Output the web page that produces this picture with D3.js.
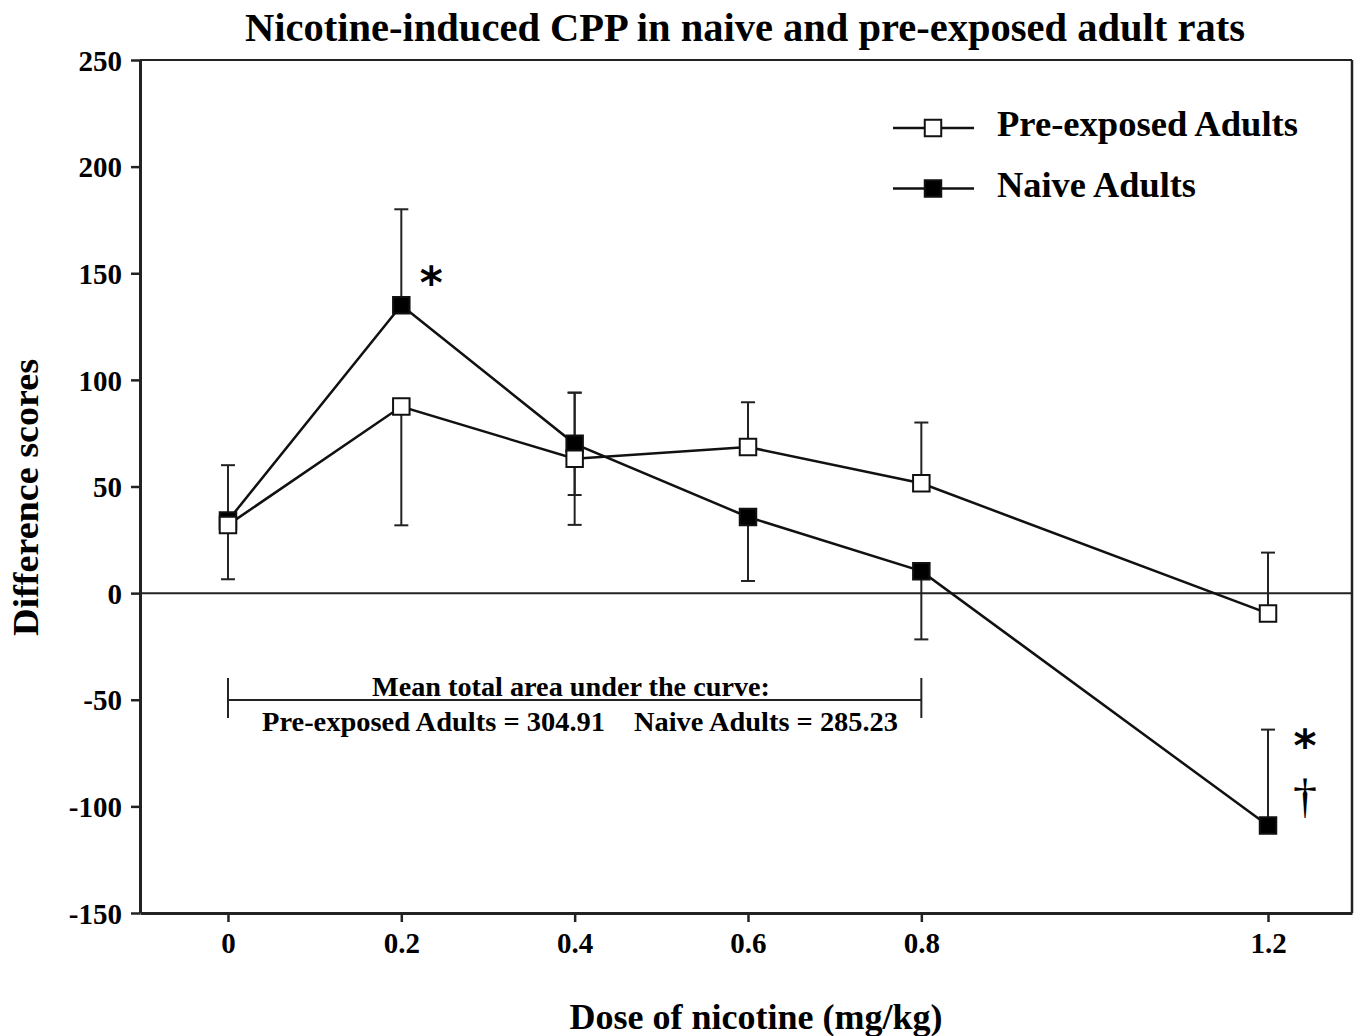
<html>
<head>
    <script src="https://d3js.org/d3.v7.min.js"></script>
    <style>
        body { margin: 0; background: #fff; }
        svg text { font-family: "Liberation Serif", "Times New Roman", serif; font-weight: bold; fill: #000; }
    </style>
</head>
<body>
    <svg id="chartArea" width="1360" height="1036"></svg>
    <script>
        // values
        const doses = [0, 0.2, 0.4, 0.6, 0.8, 1.2];
        const preMean = [32, 87.5, 63, 68.5, 51.5, -9.5];
        const preUp = [0, 0, 31, 21, 28.5, 28.5];
        const preDown = [25.5, 55.7, 31, 0, 0, 0];
        const naiveMean = [34, 135, 70, 35.7, 10.3, -109];
        const naiveUp = [26, 45, 24, 0, 0, 45];
        const naiveDown = [0, 0, 24, 30, 32, 0];

        const xTicks = [0, 0.2, 0.4, 0.6, 0.8, 1.2];
        const yTicks = [-150, -100, -50, 0, 50, 100, 150, 200, 250];
        const seriesNames = ["Pre-exposed Adults", "Naive Adults"];
        const aucValues = [304.91, 285.23];

        const svg = d3.select("#chartArea");
        const margins = { top: 60, right: 8, bottom: 123, left: 140 };
        const width = +svg.attr("width");
        const height = +svg.attr("height");

        const x = d3.scaleLinear()
            .domain([-0.1015, 1.2969])
            .range([margins.left, width - margins.right]);
        const y = d3.scaleLinear()
            .domain([-150, 250])
            .range([height - margins.bottom, margins.top]);

        const x0 = x.range()[0], x1 = x.range()[1];
        const yb = y.range()[0], yt = y.range()[1];

        // title
        svg.append("text")
            .attr("x", 745).attr("y", 41)
            .attr("text-anchor", "middle")
            .attr("font-size", 41)
            .attr("textLength", 1000).attr("lengthAdjust", "spacingAndGlyphs")
            .text("Nicotine-induced CPP in naive and pre-exposed adult rats");

        // frame top / right
        svg.append("line").attr("x1", x0).attr("x2", x1).attr("y1", yt).attr("y2", yt)
            .attr("stroke", "#222").attr("stroke-width", 2);
        svg.append("line").attr("x1", x1).attr("x2", x1).attr("y1", yt).attr("y2", yb)
            .attr("stroke", "#222").attr("stroke-width", 2.5);

        // axes
        const yAxis = svg.append("g")
            .attr("transform", `translate(${x0},0)`)
            .call(d3.axisLeft(y).tickValues(yTicks).tickSize(9).tickSizeOuter(0).tickPadding(9).tickFormat(d => String(d)));
        const xAxis = svg.append("g")
            .attr("transform", `translate(0,${yb})`)
            .call(d3.axisBottom(x).tickValues(xTicks).tickSize(9).tickSizeOuter(0).tickPadding(10).tickFormat(d => String(d)));

        [yAxis, xAxis].forEach(ax => {
            ax.select(".domain").attr("stroke", "#222").attr("stroke-width", 3);
            ax.selectAll(".tick line").attr("stroke", "#222").attr("stroke-width", 2.5);
            ax.selectAll(".tick text").attr("font-size", 29)
                .attr("font-family", "Liberation Serif, Times New Roman, serif")
                .attr("font-weight", "bold");
        });
        yAxis.selectAll(".tick text").attr("dy", "0.35em");

        // zero line
        svg.append("line").attr("x1", x0).attr("x2", x1)
            .attr("y1", y(0)).attr("y2", y(0))
            .attr("stroke", "#222").attr("stroke-width", 2);

        // axis titles
        svg.append("text")
            .attr("transform", `translate(38,${(yt + yb) / 2 + 11}) rotate(-90)`)
            .attr("text-anchor", "middle")
            .attr("font-size", 36)
            .attr("textLength", 277).attr("lengthAdjust", "spacingAndGlyphs")
            .text("Difference scores");
        svg.append("text")
            .attr("x", 756).attr("y", 1029)
            .attr("text-anchor", "middle")
            .attr("font-size", 36)
            .attr("textLength", 373).attr("lengthAdjust", "spacingAndGlyphs")
            .text("Dose of nicotine (mg/kg)");

        const series = [
            { name: seriesNames[1], mean: naiveMean, up: naiveUp, down: naiveDown, fill: "#000" },
            { name: seriesNames[0], mean: preMean, up: preUp, down: preDown, fill: "#fff" }
        ];

        const capW = 7;
        const plot = svg.append("g");

        // error bars
        series.forEach(s => {
            const bars = [];
            doses.forEach((d, i) => {
                if (s.up[i] > 0) bars.push({ d, m: s.mean[i], e: s.mean[i] + s.up[i] });
                if (s.down[i] > 0) bars.push({ d, m: s.mean[i], e: s.mean[i] - s.down[i] });
            });
            const g = plot.append("g").attr("stroke", "#222").attr("stroke-width", 2);
            g.selectAll("line.err").data(bars).join("line").attr("class", "err")
                .attr("x1", b => x(b.d)).attr("x2", b => x(b.d))
                .attr("y1", b => y(b.m)).attr("y2", b => y(b.e));
            g.selectAll("line.cap").data(bars).join("line").attr("class", "cap")
                .attr("x1", b => x(b.d) - capW).attr("x2", b => x(b.d) + capW)
                .attr("y1", b => y(b.e)).attr("y2", b => y(b.e));
        });

        // lines
        const lineGen = d3.line().x(p => x(p[0])).y(p => y(p[1]));
        series.forEach(s => {
            plot.append("path")
                .datum(doses.map((d, i) => [d, s.mean[i]]))
                .attr("d", lineGen)
                .attr("fill", "none")
                .attr("stroke", "#111")
                .attr("stroke-width", 2.5);
        });

        // markers
        const sq = d3.symbol().type(d3.symbolSquare).size(272);
        series.forEach(s => {
            plot.selectAll(null)
                .data(doses.map((d, i) => [d, s.mean[i]]))
                .join("path")
                .attr("d", sq)
                .attr("transform", p => `translate(${x(p[0])},${y(p[1])})`)
                .attr("fill", s.fill)
                .attr("stroke", "#111")
                .attr("stroke-width", 2);
        });

        // significance marks
        svg.append("text")
            .attr("x", x(0.2) + 30).attr("y", y(naiveMean[1]) - 7)
            .attr("text-anchor", "middle")
            .style("font-family", "DejaVu Sans, sans-serif")
            .attr("font-size", 44)
            .text("*");
        svg.append("text")
            .attr("x", x(1.2) + 37).attr("y", y(naiveMean[5]) - 65)
            .attr("text-anchor", "middle")
            .style("font-family", "DejaVu Sans, sans-serif")
            .attr("font-size", 44)
            .text("*");
        svg.append("text")
            .attr("x", x(1.2) + 37).attr("y", y(naiveMean[5]) - 14)
            .attr("text-anchor", "middle")
            .style("font-weight", "normal")
            .attr("font-size", 48)
            .text("\u2020");

        // area-under-curve bracket
        const br = svg.append("g").attr("stroke", "#222").attr("stroke-width", 2);
        br.append("line").attr("x1", x(0)).attr("x2", x(0.8)).attr("y1", 700).attr("y2", 700);
        br.append("line").attr("x1", x(0)).attr("x2", x(0)).attr("y1", 678).attr("y2", 718);
        br.append("line").attr("x1", x(0.8)).attr("x2", x(0.8)).attr("y1", 678).attr("y2", 718);

        svg.append("text")
            .attr("x", 571).attr("y", 696)
            .attr("text-anchor", "middle")
            .attr("font-size", 28)
            .attr("textLength", 398).attr("lengthAdjust", "spacingAndGlyphs")
            .text("Mean total area under the curve:");
        svg.append("text")
            .attr("x", 262).attr("y", 731)
            .attr("font-size", 28)
            .attr("textLength", 343).attr("lengthAdjust", "spacingAndGlyphs")
            .text(`${seriesNames[0]} = ${aucValues[0]}`);
        svg.append("text")
            .attr("x", 634).attr("y", 731)
            .attr("font-size", 28)
            .attr("textLength", 264).attr("lengthAdjust", "spacingAndGlyphs")
            .text(`Naive Adults = ${aucValues[1]}`);

        // legend
        const legend = svg.append("g").attr("transform", "translate(893,128)");
        const legendItems = [
            { name: seriesNames[0], fill: "#fff", w: 301 },
            { name: seriesNames[1], fill: "#000", w: 199 }
        ];
        legendItems.forEach((it, i) => {
            const g = legend.append("g").attr("transform", `translate(0,${i * 60.5})`);
            g.append("line").attr("x1", 0).attr("x2", 81).attr("y1", 0).attr("y2", 0)
                .attr("stroke", "#111").attr("stroke-width", 2.5);
            g.append("path").attr("d", sq).attr("transform", "translate(40,0)")
                .attr("fill", it.fill).attr("stroke", "#111").attr("stroke-width", 2);
            g.append("text").attr("x", 104).attr("y", 8)
                .attr("font-size", 36)
                .attr("textLength", it.w).attr("lengthAdjust", "spacingAndGlyphs")
                .text(it.name);
        });
    </script>
</body>
</html>
